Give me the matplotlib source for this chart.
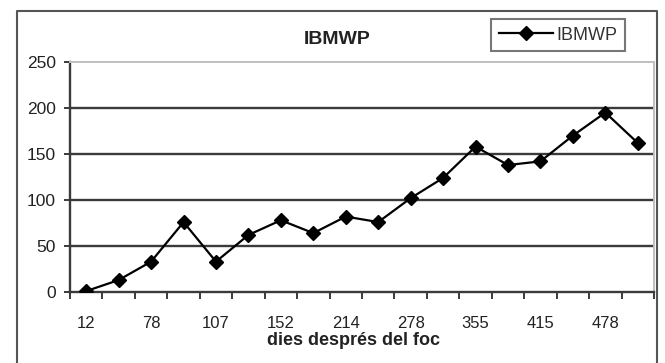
import matplotlib
matplotlib.use("Agg")
import matplotlib.pyplot as plt
from matplotlib.lines import Line2D
import numpy as np

plt.rcParams["font.family"] = ["Liberation Sans", "DejaVu Sans"]

# values (18 samples, every other day label shown)
day_labels = ["12", "", "78", "", "107", "", "152", "", "214", "",
              "278", "", "355", "", "415", "", "478", ""]
ibmwp = [1, 13, 33, 76, 33, 62, 78, 64, 82, 76,
         102, 124, 158, 138, 142, 170, 195, 162]
y_ticks = [0, 50, 100, 150, 200, 250]

DARK = "#3a3a3a"
LIGHT = "#c0c0c0"
TXT = "#222222"

fig = plt.figure(figsize=(6.65, 3.63), dpi=100)
ax = fig.add_axes([70 / 665, 1 - 292 / 363, 584 / 665, 230 / 363])

x = np.arange(len(ibmwp))
ax.plot(x, ibmwp, color="black", lw=1.6, marker="D", ms=7.5,
        mfc="black", mec="black", label="IBMWP", zorder=3)

ax.set_xlim(-0.5, len(ibmwp) - 0.5)
ax.set_ylim(0, 250)

# horizontal gridlines (top one is lighter, like the plot-area border)
for v in y_ticks[1:-1]:
    ax.axhline(v, color=DARK, lw=1.7, zorder=1)

ax.spines["top"].set_color(LIGHT)
ax.spines["right"].set_color(LIGHT)
ax.spines["top"].set_linewidth(1.4)
ax.spines["right"].set_linewidth(1.4)
ax.spines["left"].set_color(DARK)
ax.spines["bottom"].set_color(DARK)
ax.spines["left"].set_linewidth(1.7)
ax.spines["bottom"].set_linewidth(1.7)

ax.set_yticks(y_ticks)
ax.tick_params(axis="y", direction="out", length=4, width=1.4, color=DARK,
               labelsize=12.5, labelcolor=TXT, pad=6)

# ticks between categories, labels on categories
ax.set_xticks(np.arange(-0.5, len(ibmwp)), labels=[""] * (len(ibmwp) + 1))
ax.set_xticks(x, labels=day_labels, minor=True)
ax.tick_params(axis="x", which="major", direction="out", length=5, width=1.4, color=DARK)
ax.tick_params(axis="x", which="minor", length=0, labelsize=12,
               labelcolor=TXT, pad=17)

ax.set_xlabel("dies després del foc", fontsize=13, fontweight="bold",
              color=TXT, labelpad=0)
ax.xaxis.set_label_coords(0.485, -0.175)

fig.text(337 / 665, 1 - 40 / 363, "IBMWP", ha="center", va="center",
         fontsize=14, fontweight="bold", color=TXT)

# outer chart frame (left, top, right)
fx0, fx1, fy0 = 17 / 665, 657 / 665, 1 - 11 / 363
fig.add_artist(Line2D([fx0, fx0, fx1, fx1], [0, fy0, fy0, 0],
                      transform=fig.transFigure, color="#555555", lw=1.5))

leg = fig.legend(loc="center", bbox_to_anchor=(558 / 665, 1 - 35 / 363),
                 fontsize=13, frameon=True, fancybox=False, handlelength=3.0,
                 borderpad=0.4, handletextpad=0.2, borderaxespad=0)
leg.get_frame().set_edgecolor("#555555")
leg.get_frame().set_linewidth(1.5)
for t in leg.get_texts():
    t.set_color("#333333")

fig.savefig("out.png", dpi=100)
